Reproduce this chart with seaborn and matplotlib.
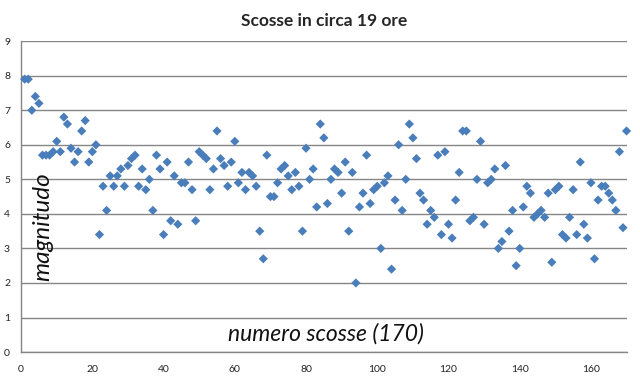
import pandas as pd
import matplotlib.pyplot as plt
import seaborn as sns

# magnitudo di ogni scossa, in ordine (1..170)
magnitudo = [
    7.9, 7.9, 7.0, 7.4, 7.2, 5.7, 5.7, 5.7, 5.8, 6.1,
    5.8, 6.8, 6.6, 5.9, 5.5, 5.8, 6.4, 6.7, 5.5, 5.8,
    6.0, 3.4, 4.8, 4.1, 5.1, 4.8, 5.1, 5.3, 4.8, 5.4,
    5.6, 5.7, 4.8, 5.3, 4.7, 5.0, 4.1, 5.7, 5.3, 3.4,
    5.5, 3.8, 5.1, 3.7, 4.9, 4.9, 5.5, 4.7, 3.8, 5.8,
    5.7, 5.6, 4.7, 5.3, 6.4, 5.6, 5.4, 4.8, 5.5, 6.1,
    4.9, 5.2, 4.7, 5.2, 5.1, 4.8, 3.5, 2.7, 5.7, 4.5,
    4.5, 4.9, 5.3, 5.4, 5.1, 4.7, 5.2, 4.8, 3.5, 5.9,
    5.0, 5.3, 4.2, 6.6, 6.2, 4.3, 5.0, 5.3, 5.2, 4.6,
    5.5, 3.5, 5.2, 2.0, 4.2, 4.6, 5.7, 4.3, 4.7, 4.8,
    3.0, 4.9, 5.1, 2.4, 4.4, 6.0, 4.1, 5.0, 6.6, 6.2,
    5.6, 4.6, 4.4, 3.7, 4.1, 3.9, 5.7, 3.4, 5.8, 3.7,
    3.3, 4.4, 5.2, 6.4, 6.4, 3.8, 3.9, 5.0, 6.1, 3.7,
    4.9, 5.0, 5.3, 3.0, 3.2, 5.4, 3.5, 4.1, 2.5, 3.0,
    4.2, 4.8, 4.6, 3.9, 4.0, 4.1, 3.9, 4.6, 2.6, 4.7,
    4.8, 3.4, 3.3, 3.9, 4.7, 3.4, 5.5, 3.7, 3.3, 4.9,
    2.7, 4.4, 4.8, 4.8, 4.6, 4.4, 4.1, 5.8, 3.6, 6.4,
]
scossa = list(range(1, len(magnitudo) + 1))

df = pd.DataFrame({'scossa': scossa, 'magnitudo': magnitudo})

sns.set_style('white')
plt.rcParams['font.family'] = ['Lato', 'DejaVu Sans']

grid_col = '#868686'

fig, ax = plt.subplots(figsize=(6.4, 3.81), dpi=100)
fig.subplots_adjust(left=0.033, right=0.979, top=0.892, bottom=0.076)

sns.scatterplot(data=df, x='scossa', y='magnitudo', marker='D', s=22,
                color='#4A7EBB', edgecolor='none', ax=ax, zorder=3, clip_on=False)

ax.set_xlim(0, 170)
ax.set_ylim(0, 9)
ax.set_xticks(range(0, 161, 20))
ax.set_yticks(range(0, 10))
ax.yaxis.grid(True, color=grid_col, linewidth=1)
ax.set_axisbelow(True)

for side in ['top', 'right']:
    ax.spines[side].set_visible(False)
for side in ['left', 'bottom']:
    ax.spines[side].set_color(grid_col)
    ax.spines[side].set_linewidth(1)

ax.tick_params(axis='both', direction='out', colors=grid_col, labelcolor='#222222',
               labelsize=7.5, width=1)
ax.tick_params(axis='x', length=4, pad=5)
ax.tick_params(axis='y', length=3, pad=5)

ax.set_xlabel('')
ax.set_ylabel('')
ax.set_title('Scosse in circa 19 ore', fontsize=12.5, fontweight='bold', pad=11)

ax.text(0.035, 0.405, 'magnitudo', transform=ax.transAxes, rotation=90,
        fontsize=17.5, fontstyle='italic',
        ha='center', va='center', color='#111111')
ax.text(0.504, 0.058, 'numero scosse (170)', transform=ax.transAxes,
        fontsize=16.5, fontstyle='italic',
        ha='center', va='center', color='#111111')

plt.savefig('out.png', dpi=100)
